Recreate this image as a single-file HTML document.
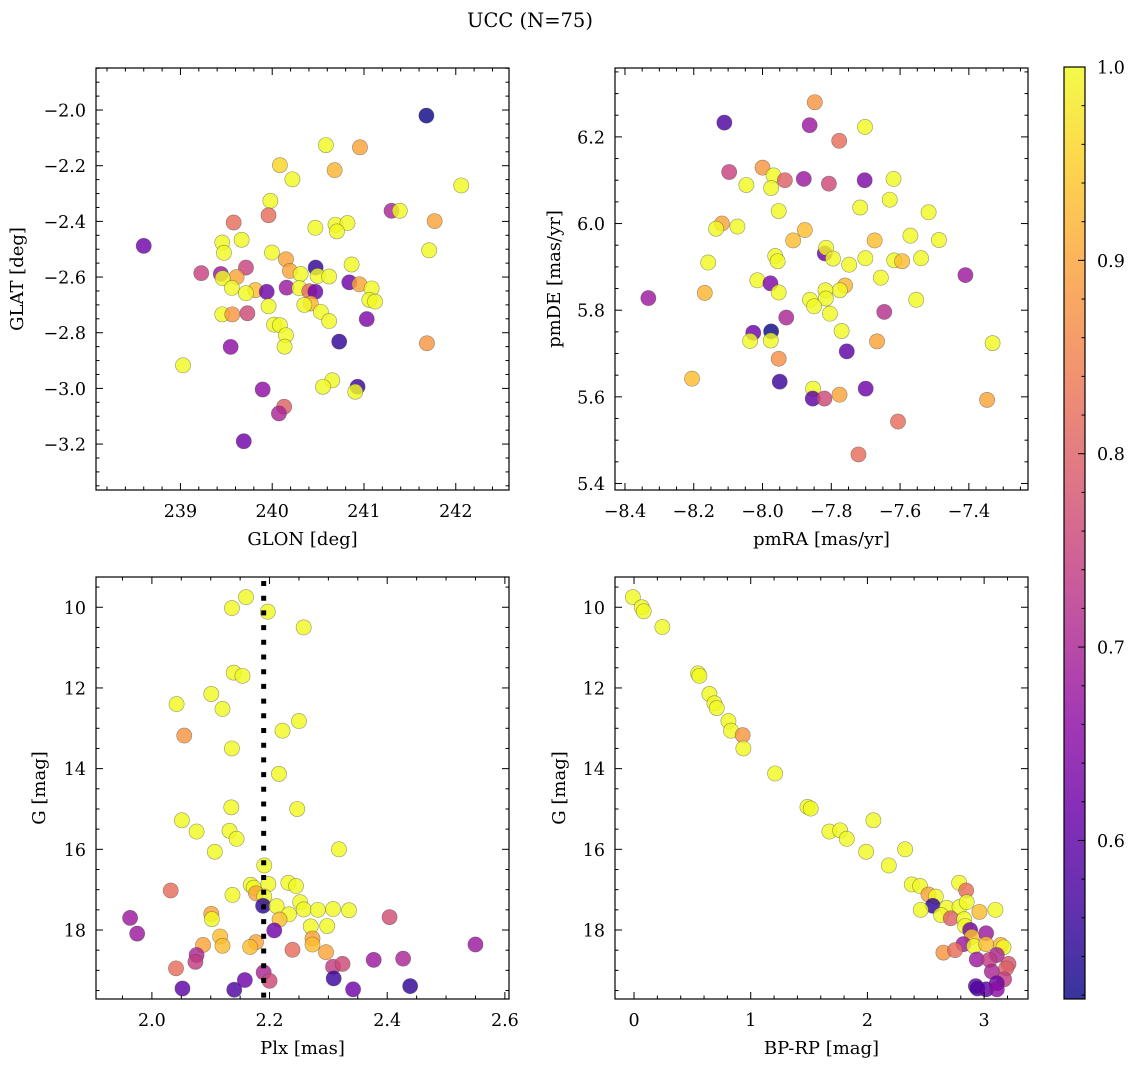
<!DOCTYPE html>
<html><head><meta charset="utf-8"><style>
html,body{margin:0;padding:0;background:#fff;}
svg{display:block;font-family:"DejaVu Serif","Liberation Serif",serif;}
</style></head><body>
<svg id="fig" width="1136" height="1067" viewBox="0 0 1136 1067" xmlns="http://www.w3.org/2000/svg">
<text x="530" y="27" font-size="19.5" text-anchor="middle">UCC (N=75)</text>
</svg>
<script>
// ---- Panel 1: GLON vs GLAT ----
const p1_glon=[241.68,240.585,240.956,240.084,240.68,240.22,242.06,239.98,241.30,241.39,239.96,239.58,241.77,240.47,240.69,240.82,240.705,238.60,239.456,239.667,239.474,241.71,239.997,240.15,240.865,240.193,239.227,239.44,239.714,240.473,240.31,239.612,239.46,240.495,240.62,240.84,240.95,239.56,239.816,239.94,240.157,240.295,240.404,240.47,241.083,239.714,241.058,241.12,240.42,240.35,239.96,240.53,239.456,239.565,239.73,240.62,241.03,240.02,240.084,240.15,240.73,240.135,239.547,241.686,239.028,240.654,240.553,240.93,240.905,239.896,240.13,240.073,239.69];
const p1_glat=[-2.02,-2.126,-2.134,-2.198,-2.216,-2.249,-2.271,-2.326,-2.362,-2.362,-2.378,-2.404,-2.399,-2.423,-2.412,-2.406,-2.436,-2.488,-2.476,-2.466,-2.513,-2.504,-2.512,-2.536,-2.555,-2.578,-2.586,-2.589,-2.566,-2.566,-2.589,-2.60,-2.604,-2.596,-2.598,-2.619,-2.626,-2.639,-2.647,-2.653,-2.638,-2.64,-2.651,-2.653,-2.641,-2.658,-2.682,-2.688,-2.695,-2.70,-2.705,-2.725,-2.734,-2.734,-2.73,-2.758,-2.751,-2.771,-2.773,-2.809,-2.832,-2.85,-2.851,-2.838,-2.917,-2.971,-2.994,-2.994,-3.012,-3.004,-3.066,-3.09,-3.19];
const p1_prob=[0.52,1,0.9,0.96,0.92,1,1,1,0.7,1,0.82,0.82,0.9,1,1,1,1,0.62,1,1,1,1,1,0.9,1,0.9,0.75,0.68,0.75,0.55,1,0.9,1,1,1,0.62,0.9,1,0.93,0.62,0.68,1,0.82,0.62,1,1,1,1,0.92,1,1,1,1,0.88,0.76,1,0.64,1,1,1,0.55,1,0.66,0.88,1,1,1,0.56,1,0.66,0.8,0.7,0.62];
// ---- Panel 2: pmRA vs pmDE ----
const p2_pmra=[-7.848,-8.111,-7.863,-7.702,-7.777,-8.097,-8.0,-7.968,-7.935,-7.88,-7.807,-7.703,-7.619,-8.047,-7.975,-7.63,-7.716,-7.953,-7.517,-8.118,-8.135,-8.073,-7.877,-7.911,-7.674,-7.57,-7.487,-7.819,-7.815,-7.963,-7.956,-7.795,-7.748,-7.701,-7.617,-7.594,-7.539,-8.158,-7.41,-7.656,-8.015,-7.977,-7.76,-7.775,-7.817,-8.168,-7.953,-8.332,-7.862,-7.816,-7.553,-7.85,-7.804,-7.646,-7.931,-8.027,-7.975,-8.036,-7.976,-7.77,-7.755,-7.331,-7.667,-7.953,-7.95,-8.205,-7.853,-7.854,-7.82,-7.776,-7.70,-7.347,-7.606,-7.721];
const p2_pmde=[6.28,6.233,6.227,6.223,6.191,6.119,6.129,6.111,6.10,6.103,6.092,6.10,6.103,6.089,6.082,6.055,6.037,6.029,6.026,6.0,5.988,5.993,5.985,5.961,5.961,5.972,5.962,5.931,5.944,5.925,5.913,5.919,5.905,5.92,5.915,5.913,5.92,5.91,5.881,5.875,5.869,5.862,5.857,5.846,5.846,5.84,5.841,5.828,5.824,5.827,5.824,5.809,5.792,5.796,5.783,5.748,5.751,5.729,5.73,5.752,5.705,5.724,5.728,5.688,5.635,5.642,5.619,5.596,5.596,5.605,5.619,5.593,5.543,5.467];
const p2_prob=[0.88,0.58,0.68,1,0.82,0.75,0.88,1,0.8,0.68,0.76,0.64,1,1,1,1,1,1,1,0.9,1,1,0.93,0.93,0.93,1,1,0.62,1,1,1,1,1,1,1,0.93,1,1,0.68,1,1,0.64,0.92,1,1,0.92,1,0.68,1,1,1,1,1,0.72,0.7,0.62,0.52,1,1,1,0.6,1,0.9,0.87,0.56,0.93,1,0.6,0.76,0.9,0.62,0.9,0.82,0.82];
// ---- Panel 3: Plx vs G ----
const p3_plx=[2.160,2.136,2.197,2.258,2.139,2.154,2.101,2.042,2.12,2.25,2.222,2.055,2.136,2.216,2.135,2.247,2.051,2.076,2.132,2.144,2.107,2.318,2.191,2.168,2.173,2.198,2.232,2.245,2.032,2.137,2.177,2.191,2.189,2.212,2.252,2.258,2.282,2.308,2.335,2.233,2.217,2.101,2.102,1.963,2.404,1.975,2.208,2.27,2.298,2.116,2.12,2.087,2.177,2.167,2.273,2.273,2.239,2.296,2.55,2.076,2.074,2.377,2.427,2.308,2.324,2.041,2.19,2.2,2.158,2.309,2.052,2.14,2.342,2.439];
const p3_g=[9.75,10.02,10.11,10.5,11.62,11.70,12.15,12.40,12.52,12.82,13.06,13.18,13.5,14.13,14.96,15.0,15.28,15.56,15.54,15.74,16.06,16.0,16.40,16.88,16.95,16.86,16.83,16.91,17.02,17.13,17.09,17.17,17.4,17.41,17.31,17.49,17.5,17.48,17.51,17.61,17.74,17.6,17.73,17.7,17.68,18.09,18.01,17.91,17.9,18.16,18.39,18.37,18.3,18.42,18.21,18.36,18.49,18.55,18.36,18.62,18.79,18.74,18.71,18.91,18.84,18.95,19.05,19.26,19.24,19.2,19.45,19.48,19.47,19.39];
const p3_prob=[1,1,1,1,1,1,1,1,1,1,1,0.88,1,1,1,1,1,1,1,1,1,1,1,1,1,1,1,1,0.82,1,0.9,1,0.55,1,1,1,1,1,1,1,0.93,0.9,1,0.68,0.77,0.68,0.62,1,1,0.93,0.93,0.9,0.9,0.93,0.9,0.93,0.82,0.9,0.68,0.7,0.74,0.68,0.7,0.74,0.76,0.82,0.7,0.76,0.62,0.56,0.6,0.58,0.62,0.55];
const p3_plxLine=[2.19];
// ---- Panel 4: BP-RP vs G ----
const p4_bprp=[-0.01,0.066,0.083,0.243,0.549,0.56,0.646,0.689,0.709,0.809,0.831,0.931,0.937,1.209,1.486,1.514,2.051,1.674,1.766,1.823,1.989,2.323,2.183,2.38,2.451,2.786,2.846,2.523,2.586,2.56,2.457,2.68,2.789,2.851,2.96,3.097,2.631,2.714,2.829,2.837,2.88,3.017,2.894,2.823,2.914,3.017,3.143,3.166,2.651,2.751,3.109,2.937,3.046,3.209,3.189,3.066,3.171,3.109,2.929,2.943,3.017,3.109];
const p4_g=[9.75,10.0,10.1,10.49,11.64,11.70,12.15,12.38,12.5,12.82,13.06,13.17,13.5,14.12,14.95,14.99,15.28,15.56,15.53,15.74,16.06,16.0,16.40,16.87,16.91,16.83,17.02,17.12,17.17,17.4,17.5,17.45,17.43,17.31,17.55,17.5,17.63,17.71,17.73,17.9,18.0,18.08,18.17,18.35,18.4,18.35,18.37,18.43,18.56,18.5,18.62,18.73,18.74,18.84,18.95,19.03,19.22,19.32,19.39,19.45,19.47,19.47];
const p4_prob=[1,1,1,1,1,1,1,1,1,1,1,0.88,1,1,1,1,1,1,1,1,1,1,1,1,1,1,0.82,0.9,1,0.55,1,1,1,1,0.93,1,1,0.8,1,1,0.62,0.68,0.93,0.68,1,0.93,0.92,1,0.88,0.82,0.7,0.68,0.74,0.78,0.8,0.7,0.74,0.62,0.6,0.58,0.6,0.66];
// ---- Colorbar ticks ----
const cbTicks=[0.6,0.7,0.8,0.9,1.0];
const cbMin=0.518, cbMax=1.0;

const NS="http://www.w3.org/2000/svg";
const fig=document.getElementById('fig');
const TFS=17.5, LFS=18;
function mk(tag,attrs,parent){const e=document.createElementNS(NS,tag);for(const k in attrs)e.setAttribute(k,attrs[k]);(parent||fig).appendChild(e);return e;}
const plasma=[[13,8,135],[65,4,157],[106,0,168],[143,13,164],[177,42,144],[204,71,120],[225,100,98],[242,132,75],[252,166,54],[252,206,37],[240,249,33]];
function cmap(t){t=Math.max(0,Math.min(1,t))*10;const i=Math.min(9,Math.floor(t)),f=t-i;const a=plasma[i],b=plasma[i+1];return 'rgb('+a.map((v,k)=>Math.round(v+(b[k]-v)*f)).join(',')+')';}
function norm(v){return (v-cbMin)/(cbMax-cbMin);}
function fmt(v,d){const s=Math.abs(v).toFixed(d);return (v<-1e-9?'\u2212':'')+s;}

function panel(o){
  const g=mk('g',{});
  
  
  const sx=v=>o.x0+(v-o.xmin)/(o.xmax-o.xmin)*(o.x1-o.x0);
  const sy=o.yinv? (v=>o.y0+(v-o.ymin)/(o.ymax-o.ymin)*(o.y1-o.y0)) : (v=>o.y1-(v-o.ymin)/(o.ymax-o.ymin)*(o.y1-o.y0));
  for(let i=0;i<o.xs.length;i++){
    const c=mk('circle',{cx:sx(o.xs[i]),cy:sy(o.ys[i]),r:7.6,fill:cmap(norm(o.cs[i])),'fill-opacity':0.82,stroke:'rgba(70,70,70,0.55)','stroke-width':0.6},g);
    
    
  }
  if(o.vline){for(const v of o.vline){const l=mk('line',{x1:sx(v),x2:sx(v),y1:o.y0+4,y2:o.y1,stroke:'#000','stroke-width':5,'stroke-dasharray':'5 9.7'},g);
    
    }}
  const fr=mk('rect',{x:o.x0,y:o.y0,width:o.x1-o.x0,height:o.y1-o.y0,fill:'none',stroke:'#000','stroke-width':1.2},g);
  
  
  const eps=1e-6;
  for(let v=Math.ceil(o.xmin/o.xminor-eps)*o.xminor; v<=o.xmax+eps; v+=o.xminor){
    const X=sx(v); const maj=Math.abs(v/o.xmajor-Math.round(v/o.xmajor))<1e-4; const L=maj?7:3.5;
    mk('line',{x1:X,x2:X,y1:o.y1,y2:o.y1-L,stroke:'#000','stroke-width':1},g);
    mk('line',{x1:X,x2:X,y1:o.y0,y2:o.y0+L,stroke:'#000','stroke-width':1},g);
    if(maj){const t=mk('text',{x:X,y:o.y1+27,'font-size':TFS,'text-anchor':'middle'},g);t.textContent=fmt(Math.round(v/o.xmajor)*o.xmajor,o.xd);
      
      }
  }
  for(let v=Math.ceil(o.ymin/o.yminor-eps)*o.yminor; v<=o.ymax+eps; v+=o.yminor){
    const Y=sy(v); const maj=Math.abs(v/o.ymajor-Math.round(v/o.ymajor))<1e-4; const L=maj?7:3.5;
    mk('line',{x1:o.x0,x2:o.x0+L,y1:Y,y2:Y,stroke:'#000','stroke-width':1},g);
    mk('line',{x1:o.x1,x2:o.x1-L,y1:Y,y2:Y,stroke:'#000','stroke-width':1},g);
    if(maj){const t=mk('text',{x:o.x0-10,y:Y+6.5,'font-size':TFS,'text-anchor':'end'},g);t.textContent=fmt(Math.round(v/o.ymajor)*o.ymajor,o.yd);
      
      }
  }
  const xl=mk('text',{x:(o.x0+o.x1)/2,y:o.y1+55,'font-size':LFS,'text-anchor':'middle'},g);xl.textContent=o.xlabel;
  
  
  const yc=(o.y0+o.y1)/2;
  const yl=mk('text',{x:o.ylx,y:yc,'font-size':LFS,'text-anchor':'middle',transform:'rotate(-90 '+o.ylx+' '+yc+')'},g);yl.textContent=o.ylabel;
  
  
}
panel({name:'glon-glat-panel',x0:96,x1:509,y0:68,y1:490,xmin:238.08,xmax:242.58,ymin:-3.365,ymax:-1.849,xmajor:1,xminor:0.2,ymajor:0.2,yminor:0.05,xd:0,yd:1,xs:p1_glon,ys:p1_glat,cs:p1_prob,xlabel:'GLON [deg]',ylabel:'GLAT [deg]',ylx:23});
panel({name:'proper-motion-panel',x0:615,x1:1028,y0:68,y1:490,xmin:-8.429,xmax:-7.228,ymin:5.385,ymax:6.359,xmajor:0.2,xminor:0.05,ymajor:0.2,yminor:0.05,xd:1,yd:1,xs:p2_pmra,ys:p2_pmde,cs:p2_prob,xlabel:'pmRA [mas/yr]',ylabel:'pmDE [mas/yr]',ylx:560});
panel({name:'plx-g-panel',x0:96,x1:509,y0:577,y1:999,xmin:1.905,xmax:2.607,ymin:9.25,ymax:19.71,yinv:true,xmajor:0.2,xminor:0.05,ymajor:2,yminor:0.5,xd:1,yd:0,xs:p3_plx,ys:p3_g,cs:p3_prob,vline:p3_plxLine,xlabel:'Plx [mas]',ylabel:'G [mag]',ylx:45});
panel({name:'cmd-panel',x0:615,x1:1028,y0:577,y1:999,xmin:-0.163,xmax:3.376,ymin:9.25,ymax:19.71,yinv:true,xmajor:1,xminor:0.2,ymajor:2,yminor:0.5,xd:0,yd:0,xs:p4_bprp,ys:p4_g,cs:p4_prob,xlabel:'BP-RP [mag]',ylabel:'G [mag]',ylx:565});

const cb=mk('g',{});


const defs=mk('defs',{},cb);
const lg=mk('linearGradient',{id:'cbg',x1:0,y1:1,x2:0,y2:0},defs);
for(let k=0;k<=20;k++){const t=k/20;const v=cbMin+t*(cbMax-cbMin);mk('stop',{offset:t,'stop-color':cmap(norm(v)),'stop-opacity':0.82},lg);}
const cx0=1064,cx1=1085,cy0=67,cy1=999;
mk('rect',{x:cx0,y:cy0,width:cx1-cx0,height:cy1-cy0,fill:'url(#cbg)',stroke:'#000','stroke-width':1.2},cb);
const cys=v=>cy1-(v-cbMin)/(cbMax-cbMin)*(cy1-cy0);
for(let v=0.52;v<=1.0001;v+=0.02){const Y=cys(v);const maj=Math.abs(v*10-Math.round(v*10))<1e-4;
  mk('line',{x1:cx1,x2:cx1-(maj?7:3.5),y1:Y,y2:Y,stroke:'#000','stroke-width':1},cb);}
for(const v of cbTicks){const t=mk('text',{x:cx1+12,y:cys(v)+6.5,'font-size':TFS},cb);t.textContent=v.toFixed(1);
  
  }
</script>
</body></html>
